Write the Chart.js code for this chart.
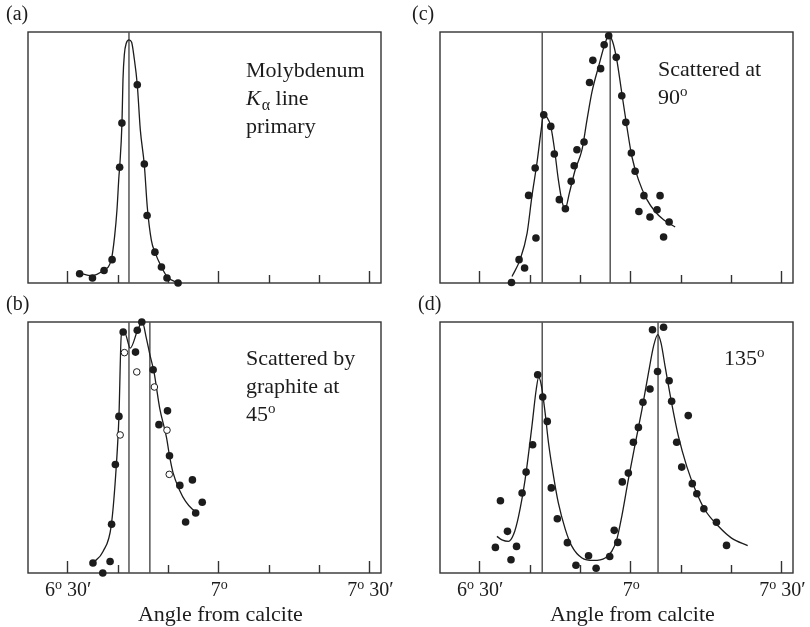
<!DOCTYPE html>
<html>
<head>
<meta charset="utf-8">
<script src="https://cdn.jsdelivr.net/npm/chart.js@4.4.1/dist/chart.umd.min.js"></script>
<style>
    body { margin: 0; background: #fff; }
    #wrap { position: relative; width: 810px; height: 627px; }
    canvas { position: absolute; }
</style>
</head>
<body>
<div id="wrap">
    <canvas id="panel-a" width="405" height="300" style="left:0;top:0"></canvas>
    <canvas id="panel-b" width="405" height="339" style="left:0;top:288px"></canvas>
    <canvas id="panel-c" width="405" height="300" style="left:405px;top:0"></canvas>
    <canvas id="panel-d" width="405" height="339" style="left:405px;top:288px"></canvas>
</div>
<script>
// Angle axis in arc-minutes above 6 degrees, intensity in % of frame height

const xMin = 22.2;
const xMax = 92.3;
const tickMinutes = [30, 40, 50, 60, 70, 80, 90];
const majorTicks = [30, 60, 90];
const tickLabelAt = [30, 60, 90];
const tickDegrees = ['6', '7', '7'];
const tickArcmin = [' 30\u2032', '', ' 30\u2032'];
const axisTitle = 'Angle from calcite';

// (a) primary line
const aDotX = [32.45, 35.0, 37.3, 38.9, 40.4, 40.85, 43.9, 45.3, 45.85, 47.4, 48.7, 49.8, 52.0];
const aDotY = [3.7, 2.0, 5.0, 9.3, 46.1, 63.7, 79.0, 47.4, 26.9, 12.3, 6.4, 2.0, 0];
const aCurveX = [32.45, 34.8, 37.1, 38.74, 39.4, 39.87, 40.26, 40.4, 40.86, 41.06, 41.33, 41.73, 42.25, 42.78, 43.24, 43.9, 44.5, 45.3, 45.9, 46.7, 47.4, 48.7, 49.8, 52.0];
const aCurveY = [4.0, 2.9, 5.0, 9.3, 18.6, 29.2, 42.5, 46.1, 63.7, 81.0, 91.0, 95.6, 96.9, 95.9, 90.3, 79.0, 61.1, 47.0, 30.0, 17.0, 12.3, 6.4, 2.6, 0];
const aLines = [42.25];

// (b) graphite at 45 degrees
const bDotX = [35.1, 37.05, 38.5, 38.8, 39.55, 40.26, 41.1, 43.55, 43.9, 44.8, 47.05, 48.2, 49.9, 50.3, 52.35, 54.85, 53.5, 55.5, 56.8];
const bDotY = [4.0, 0, 4.6, 19.4, 43.2, 62.4, 96.0, 88.0, 96.7, 100, 81.0, 59.1, 64.6, 46.7, 34.9, 37.1, 20.3, 23.9, 28.2];
const bOpenX = [40.5, 41.35, 43.8, 47.3, 49.8, 50.25];
const bOpenY = [55.0, 87.8, 80.1, 74.1, 56.9, 39.3];
const bCurveX = [35.1, 37.1, 38.75, 39.75, 40.26, 40.74, 41.4, 42.5, 44.0, 44.9, 45.7, 46.4, 47.2, 48.35, 49.7, 50.3, 51.0, 52.3, 53.5, 54.8, 55.6];
const bCurveY = [4.0, 8.6, 19.2, 43.1, 62.4, 94.9, 95.7, 89.6, 96.9, 100, 93.6, 87.0, 80.3, 65.7, 54.0, 46.7, 40.0, 33.0, 28.5, 25.5, 24.5];
const bLines = [42.25, 46.4];

// (c) scattered at 90 degrees
const cDotX = [36.4, 37.9, 39.0, 41.25, 39.8, 41.1, 42.8, 44.2, 44.9, 45.9, 47.1, 48.25, 48.85, 49.4, 50.8, 51.9, 52.55, 54.1, 54.8, 55.7, 57.2, 58.3, 59.1, 60.2, 60.95, 62.7, 61.7, 63.9, 65.3, 65.9, 67.7, 66.6];
const cDotY = [0.2, 9.3, 6.0, 17.9, 34.9, 45.8, 67.0, 62.4, 51.4, 33.2, 29.6, 40.5, 46.7, 53.1, 56.2, 79.9, 88.7, 85.4, 94.9, 98.5, 89.9, 74.6, 64.0, 51.8, 44.5, 34.8, 28.5, 26.3, 29.2, 34.8, 24.3, 18.3];
const cCurveX = [36.5, 38.1, 39.5, 40.45, 41.45, 42.3, 42.76, 43.4, 44.2, 44.95, 45.7, 46.5, 47.06, 47.9, 49.05, 50.4, 51.4, 52.4, 53.7, 55.0, 55.7, 56.45, 57.3, 58.3, 59.3, 60.3, 61.6, 63.3, 64.9, 66.6, 68.9];
const cCurveY = [2.6, 9.3, 19.9, 34.5, 47.8, 61.1, 67.0, 66.1, 62.4, 53.1, 41.2, 31.9, 29.6, 35.9, 45.1, 53.1, 65.1, 76.3, 86.3, 95.6, 98.5, 96.3, 89.0, 75.7, 62.4, 50.4, 41.2, 33.2, 28.5, 25.2, 22.3];
const cLines = [42.5, 56.0];

// (d) scattered at 135 degrees
const dDotX = [34.2, 35.6, 33.2, 37.4, 36.3, 38.5, 39.3, 40.6, 41.6, 42.6, 43.5, 44.3, 45.5, 47.5, 49.2, 51.7, 53.2, 55.9, 56.8, 57.5, 58.4, 59.6, 60.6, 61.6, 62.5, 63.9, 64.4, 65.4, 66.6, 67.7, 68.2, 71.5, 69.2, 70.2, 72.3, 73.2, 74.6, 77.1, 79.1];
const dDotY = [28.8, 16.6, 10.2, 10.6, 5.3, 31.9, 40.2, 51.1, 79.0, 70.1, 60.4, 33.9, 21.6, 12.1, 3.1, 6.9, 1.9, 6.6, 17.0, 12.2, 36.3, 39.8, 52.1, 58.0, 68.0, 73.3, 96.9, 80.3, 97.9, 76.6, 68.4, 62.7, 52.1, 42.2, 35.6, 31.6, 25.6, 20.2, 11.0];
const dCurveX = [33.5, 34.5, 35.8, 36.8, 37.8, 39.1, 40.45, 41.3, 41.8, 42.3, 43.0, 43.75, 44.75, 45.7, 47.1, 48.4, 50.4, 52.7, 55.0, 56.3, 57.3, 58.3, 59.6, 61.0, 62.3, 63.6, 64.6, 65.45, 66.1, 66.9, 68.2, 69.55, 71.2, 72.9, 74.8, 77.5, 80.1, 83.3];
const dCurveY = [14.6, 13.2, 12.6, 15.3, 22.6, 37.2, 58.4, 73.0, 78.0, 75.0, 65.1, 51.8, 38.5, 27.9, 17.3, 10.6, 6.0, 5.0, 6.0, 8.6, 13.3, 22.6, 37.2, 51.8, 65.1, 79.7, 90.3, 95.0, 91.6, 82.3, 67.7, 54.4, 42.5, 33.2, 25.2, 18.6, 13.9, 10.9];
const dLines = [42.5, 65.5];

const SERIF = '"Liberation Serif", "Times New Roman", serif';
const INK = '#1c1c1c';

function zip(xs, ys) {
    return xs.map((x, i) => ({ x, y: ys[i] }));
}

/**
 * Text runs: n = normal, i = italic, sub = subscript, sup = superscript "o"
 */
function runFont(kind, size) {
    if (kind === 'i') return `italic ${size}px ${SERIF}`;
    if (kind === 'sub') return `${Math.round(size * 0.72)}px ${SERIF}`;
    if (kind === 'sup') return `${Math.round(size * 0.68)}px ${SERIF}`;
    return `${size}px ${SERIF}`;
}

function runsWidth(ctx, runs, size) {
    let w = 0;
    runs.forEach(r => {
        ctx.font = runFont(r[0], size);
        w += ctx.measureText(r[1]).width;
    });
    return w;
}

function drawRuns(ctx, x, y, runs, size) {
    let cx = x;
    runs.forEach(r => {
        const kind = r[0];
        ctx.font = runFont(kind, size);
        let by = y;
        if (kind === 'sub') by = y + size * 0.22;
        if (kind === 'sup') by = y - size * 0.36;
        ctx.fillText(r[1], cx, by);
        cx += ctx.measureText(r[1]).width + (kind === 'i' ? 1 : 0);
    });
}

const decorPlugin = {
    id: 'decor',
    beforeDatasetsDraw(chart, args, opts) {
        const ctx = chart.ctx;
        const a = chart.chartArea;
        const xs = chart.scales.x;
        ctx.save();
        ctx.strokeStyle = '#333';
        ctx.lineWidth = 1.4;
        ctx.strokeRect(a.left, a.top, a.right - a.left, a.bottom - a.top);
        tickMinutes.forEach(m => {
            const px = Math.round(xs.getPixelForValue(m)) + 0.5;
            const len = majorTicks.includes(m) ? 12 : 8;
            ctx.beginPath();
            ctx.moveTo(px, a.bottom);
            ctx.lineTo(px, a.bottom - len);
            ctx.stroke();
        });
        ctx.restore();
    },
    afterDraw(chart, args, opts) {
        const ctx = chart.ctx;
        const a = chart.chartArea;
        const xs = chart.scales.x;
        ctx.save();
        ctx.fillStyle = INK;
        ctx.textBaseline = 'alphabetic';
        ctx.textAlign = 'left';

        // panel letter
        ctx.font = `20px ${SERIF}`;
        ctx.fillText(opts.letter, opts.letterX, a.top - 12);

        // annotation
        opts.note.forEach((line, i) => {
            drawRuns(ctx, a.left + opts.noteX, a.top + opts.noteY + i * 28, line, 22);
        });

        // bottom axis labels
        if (opts.axisLabels) {
            tickLabelAt.forEach((m, i) => {
                const runs = [['n', tickDegrees[i]], ['sup', 'o'], ['n', tickArcmin[i]]];
                const w = runsWidth(ctx, runs, 20);
                const px = xs.getPixelForValue(m);
                drawRuns(ctx, px - w / 2 + 1, a.bottom + 23, runs, 20);
            });
            ctx.font = `22px ${SERIF}`;
            ctx.textAlign = 'center';
            ctx.fillText(axisTitle, xs.getPixelForValue(60) + 2, a.bottom + 48);
        }
        ctx.restore();
    }
};

function makePanel(id, p) {
    const datasets = [];
    datasets.push({
        type: 'scatter', data: zip(p.dotX, p.dotY), order: 1, clip: false,
        pointRadius: 3.8, backgroundColor: INK, borderWidth: 0
    });
    if (p.openX) {
        datasets.push({
            type: 'scatter', data: zip(p.openX, p.openY), order: 2, clip: false,
            pointRadius: 3.3, backgroundColor: '#fff', borderColor: INK, borderWidth: 1
        });
    }
    datasets.push({
        type: 'line', data: zip(p.curveX, p.curveY), order: 3, clip: false,
        borderColor: INK, borderWidth: 1.3, pointRadius: 0, fill: false,
        cubicInterpolationMode: 'monotone'
    });
    p.lines.forEach(v => {
        datasets.push({
            type: 'line', data: [{ x: v, y: 0 }, { x: v, y: 100 }], order: 4,
            borderColor: '#555', borderWidth: 1.5, pointRadius: 0, fill: false
        });
    });

    return new Chart(document.getElementById(id), {
        type: 'scatter',
        data: { datasets },
        options: {
            responsive: false,
            animation: false,
            events: [],
            layout: { padding: p.padding },
            scales: {
                x: { type: 'linear', min: xMin, max: xMax, display: false },
                y: { type: 'linear', min: 0, max: 100, display: false }
            },
            plugins: {
                legend: { display: false },
                tooltip: { enabled: false },
                decor: p.decor
            }
        },
        plugins: [decorPlugin]
    });
}

function init() {
    makePanel('panel-a', {
        dotX: aDotX, dotY: aDotY, curveX: aCurveX, curveY: aCurveY, lines: aLines,
        padding: { left: 28, top: 32, right: 24, bottom: 17 },
        decor: {
            letter: '(a)', letterX: 6, noteX: 218, noteY: 45, axisLabels: false,
            note: [
                [['n', 'Molybdenum']],
                [['i', 'K'], ['sub', '\u03B1'], ['n', ' line']],
                [['n', 'primary']]
            ]
        }
    });
    makePanel('panel-b', {
        dotX: bDotX, dotY: bDotY, openX: bOpenX, openY: bOpenY,
        curveX: bCurveX, curveY: bCurveY, lines: bLines,
        padding: { left: 28, top: 34, right: 24, bottom: 54 },
        decor: {
            letter: '(b)', letterX: 6, noteX: 218, noteY: 43, axisLabels: true,
            note: [
                [['n', 'Scattered by']],
                [['n', 'graphite at']],
                [['n', '45'], ['sup', 'o']]
            ]
        }
    });
    makePanel('panel-c', {
        dotX: cDotX, dotY: cDotY, curveX: cCurveX, curveY: cCurveY, lines: cLines,
        padding: { left: 35, top: 32, right: 17, bottom: 17 },
        decor: {
            letter: '(c)', letterX: 7, noteX: 218, noteY: 44, axisLabels: false,
            note: [
                [['n', 'Scattered at']],
                [['n', '90'], ['sup', 'o']]
            ]
        }
    });
    makePanel('panel-d', {
        dotX: dDotX, dotY: dDotY, curveX: dCurveX, curveY: dCurveY, lines: dLines,
        padding: { left: 35, top: 34, right: 17, bottom: 54 },
        decor: {
            letter: '(d)', letterX: 13, noteX: 284, noteY: 43, axisLabels: true,
            note: [
                [['n', '135'], ['sup', 'o']]
            ]
        }
    });
}

document.addEventListener('DOMContentLoaded', init);
</script>
</body>
</html>
